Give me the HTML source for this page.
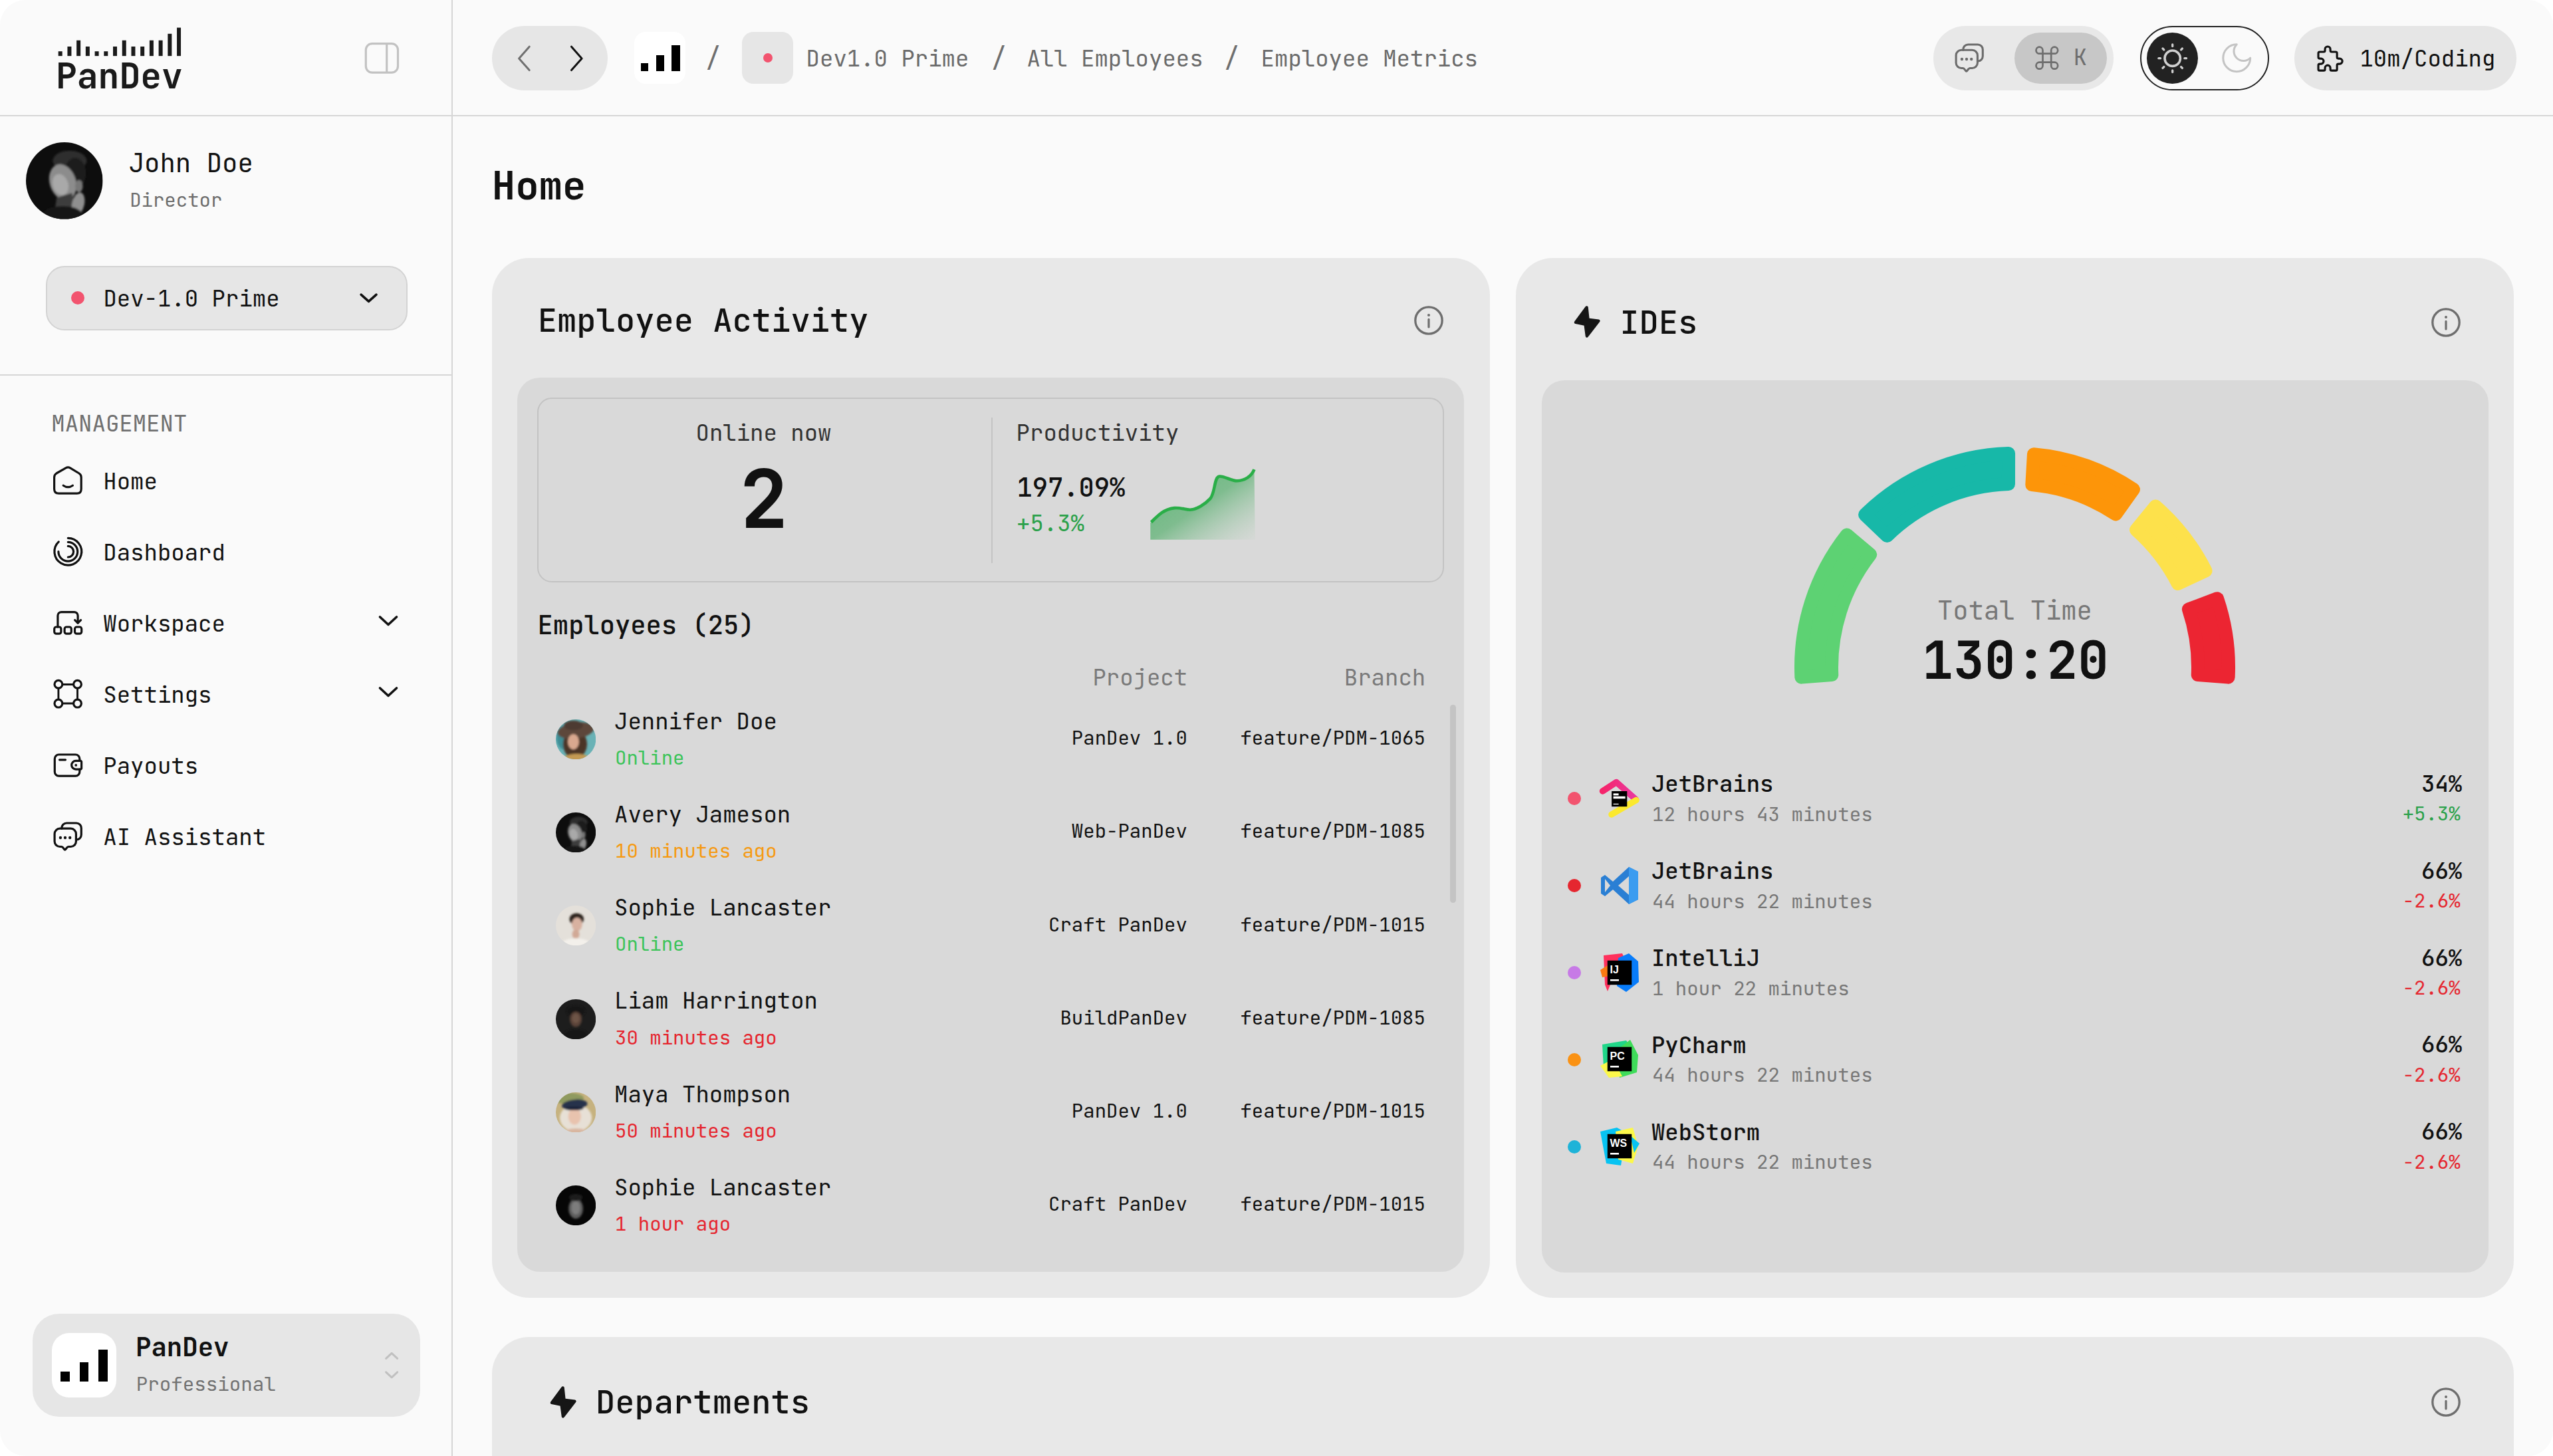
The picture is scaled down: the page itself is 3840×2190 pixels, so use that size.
<!DOCTYPE html><html><head><meta charset="utf-8"><title>PanDev - Home</title><style>
html,body{margin:0;padding:0;background:#fff;}
body{width:3840px;height:2190px;overflow:hidden;position:relative;font-family:"JetBrains Mono", "Liberation Mono", "DejaVu Sans Mono", monospace;}
#page{position:absolute;left:0;top:0;width:3840px;height:2190px;background:#fafafa;border-radius:38px;overflow:hidden;}
#page div, #page svg{box-sizing:border-box;}
</style></head><body><div id="page">
<div style="position:absolute;left:0px;top:173px;width:3840px;height:2px;background:#d6d6d6;"></div>
<div style="position:absolute;left:679px;top:0px;width:2px;height:2190px;background:#d6d6d6;"></div>
<div style="position:absolute;left:0px;top:563px;width:680px;height:2px;background:#d6d6d6;"></div>
<svg style="position:absolute;left:80px;top:30px;overflow:visible;" width="200" height="60" viewBox="0 0 200 60"><rect x="7.70" y="47.20" width="6" height="7" fill="#1a1a1a"/><rect x="21.42" y="40.00" width="6" height="14.2" fill="#1a1a1a"/><rect x="35.14" y="30.70" width="6" height="23.5" fill="#1a1a1a"/><rect x="48.86" y="40.00" width="6" height="14.2" fill="#1a1a1a"/><rect x="62.58" y="47.20" width="6" height="7" fill="#1a1a1a"/><rect x="76.30" y="47.20" width="6" height="7" fill="#1a1a1a"/><rect x="90.02" y="40.00" width="6" height="14.2" fill="#1a1a1a"/><rect x="103.74" y="30.70" width="6" height="23.5" fill="#1a1a1a"/><rect x="117.46" y="40.00" width="6" height="14.2" fill="#1a1a1a"/><rect x="131.18" y="40.00" width="6" height="14.2" fill="#1a1a1a"/><rect x="144.90" y="30.70" width="6" height="23.5" fill="#1a1a1a"/><rect x="158.62" y="30.70" width="6" height="23.5" fill="#1a1a1a"/><rect x="172.34" y="20.80" width="6" height="33.4" fill="#1a1a1a"/><rect x="186.06" y="11.60" width="6" height="42.6" fill="#1a1a1a"/></svg>
<div style="position:absolute;left:83.99px;top:87.92px;font-size:53px;line-height:53px;color:#1a1a1a;font-weight:700;white-space:pre;">PanDev</div>
<svg style="position:absolute;left:540px;top:55px;overflow:visible;" width="70" height="65" viewBox="0 0 70 65"><rect x="10.3" y="10.6" width="48.2" height="43.5" rx="9.5" fill="none" stroke="#c2c2c2" stroke-width="3.2"/><line x1="41.7" y1="10.6" x2="41.7" y2="54.1" stroke="#c2c2c2" stroke-width="3.2"/></svg>
<svg style="position:absolute;left:39.3px;top:214.3px;" width="115.6" height="115.6" viewBox="0 0 100 100"><defs><clipPath id="avc1"><circle cx="50" cy="50" r="50"/></clipPath><filter id="avf1" x="-20%" y="-20%" width="140%" height="140%"><feGaussianBlur stdDeviation="1.6"/></filter></defs><g clip-path="url(#avc1)"><rect width="100" height="100" fill="#0d0d0d"/><g filter="url(#avf1)"><ellipse cx="57" cy="24" rx="22" ry="13" fill="#2e2e2e"/><ellipse cx="64" cy="40" rx="14" ry="20" fill="#1f1f1f"/><ellipse cx="48" cy="52" rx="17" ry="24" fill="#8c8c8c" transform="rotate(-18 48 52)"/><ellipse cx="45" cy="55" rx="10" ry="14" fill="#a9a9a9" transform="rotate(-18 45 55)"/><ellipse cx="69" cy="57" rx="5" ry="8" fill="#777"/><path d="M40 72 L60 66 L66 100 L36 100 Z" fill="#3c3c3c"/><ellipse cx="68" cy="80" rx="8" ry="15" fill="#8f8f8f" transform="rotate(12 68 80)"/><ellipse cx="48" cy="95" rx="26" ry="12" fill="#141414"/></g></g></svg>
<div style="position:absolute;left:193.67px;top:225.76px;font-size:39px;line-height:39px;color:#111;font-weight:400;white-space:pre;">John Doe</div>
<div style="position:absolute;left:195.17px;top:286.06px;font-size:29px;line-height:29px;color:#6e6e6e;font-weight:400;white-space:pre;">Director</div>
<div style="position:absolute;left:68.8px;top:399.8px;width:544.4px;height:97px;background:#e6e6e6;border:2px solid #d3d3d3;border-radius:28px;"></div>
<div style="position:absolute;left:106.6px;top:438px;width:20px;height:20px;background:#f2546f;border-radius:50%;"></div>
<div style="position:absolute;left:155.42px;top:432.26px;font-size:34px;line-height:34px;color:#111;font-weight:400;white-space:pre;">Dev-1.0 Prime</div>
<svg style="position:absolute;left:535px;top:435px;overflow:visible;" width="40" height="30" viewBox="0 0 40 30"><polyline points="8.1,8.2 19.55,18.4 31,8.2" fill="none" stroke="#111" stroke-width="3.6" stroke-linecap="round" stroke-linejoin="round"/></svg>
<svg style="position:absolute;left:70px;top:690px;overflow:visible;" width="64" height="64" viewBox="0 0 64 64"><path d="M11.6 28 V45.5 Q11.6 52.2 18.3 52.2 H45.8 Q52.2 52.2 52.2 45.5 V28 Q52.2 24 49 22 L35.6 13.8 Q32.3 11.9 29 13.8 L14.8 22 Q11.6 24 11.6 28 Z" fill="none" stroke="#111" stroke-width="3.2" stroke-linecap="round" stroke-linejoin="round"/><path d="M25.2 40.2 Q32.3 45.2 39.4 40.2" fill="none" stroke="#111" stroke-width="3.2" stroke-linecap="round" stroke-linejoin="round"/></svg>
<svg style="position:absolute;left:74px;top:802px;overflow:visible;" width="56" height="56" viewBox="0 0 56 56"><path d="M28.3 7.3 A20.4 20.4 0 1 1 14.26 12.9" fill="none" stroke="#111" stroke-width="3.2" stroke-linecap="round" stroke-linejoin="round"/><path d="M28.3 13.3 A14.4 14.4 0 1 1 13.9 27.7" fill="none" stroke="#111" stroke-width="3.2" stroke-linecap="round" stroke-linejoin="round"/><path d="M28.3 19.4 A8.3 8.3 0 0 1 28.3 36" fill="none" stroke="#111" stroke-width="3.2" stroke-linecap="round" stroke-linejoin="round"/></svg>
<svg style="position:absolute;left:74px;top:910px;overflow:visible;" width="56" height="56" viewBox="0 0 56 56"><path d="M12.9 33 V16 a5.4 5.4 0 0 1 5.4 -5.4 H37.7 a5.4 5.4 0 0 1 5.4 5.4 V27" fill="none" stroke="#111" stroke-width="3.2" stroke-linecap="round" stroke-linejoin="round"/><polyline points="38.6,22.6 43.1,27.1 47.6,22.6" fill="none" stroke="#111" stroke-width="3.2" stroke-linecap="round" stroke-linejoin="round"/><rect x="7.7" y="33" width="10.2" height="10.2" rx="3" fill="none" stroke="#111" stroke-width="3.2" stroke-linecap="round" stroke-linejoin="round"/><rect x="23.1" y="33" width="10.2" height="10.2" rx="3" fill="none" stroke="#111" stroke-width="3.2" stroke-linecap="round" stroke-linejoin="round"/><rect x="38.5" y="33" width="10.2" height="10.2" rx="3" fill="none" stroke="#111" stroke-width="3.2" stroke-linecap="round" stroke-linejoin="round"/></svg>
<svg style="position:absolute;left:74px;top:1016px;overflow:visible;" width="56" height="56" viewBox="0 0 56 56"><circle cx="13.9" cy="13.3" r="5.9" fill="none" stroke="#111" stroke-width="3.2" stroke-linecap="round" stroke-linejoin="round"/><circle cx="42.5" cy="13.3" r="5.9" fill="none" stroke="#111" stroke-width="3.2" stroke-linecap="round" stroke-linejoin="round"/><circle cx="13.9" cy="42.1" r="5.9" fill="none" stroke="#111" stroke-width="3.2" stroke-linecap="round" stroke-linejoin="round"/><circle cx="42.5" cy="42.1" r="5.9" fill="none" stroke="#111" stroke-width="3.2" stroke-linecap="round" stroke-linejoin="round"/><path d="M19.8 13.5 H36.6 M19.8 42 H36.6 M13.9 19.2 V36.2 M42.5 19.2 V36.2" fill="none" stroke="#111" stroke-width="2.9"/></svg>
<svg style="position:absolute;left:74px;top:1124px;overflow:visible;" width="56" height="56" viewBox="0 0 56 56"><path d="M45.8 20.4 V17.2 a6.2 6.2 0 0 0 -6.2 -6.2 H14.5 a6.2 6.2 0 0 0 -6.2 6.2 V36.9 a6.2 6.2 0 0 0 6.2 6.2 H39.6 a6.2 6.2 0 0 0 6.2 -6.2 V33.2" fill="none" stroke="#111" stroke-width="3.2" stroke-linecap="round" stroke-linejoin="round"/><path d="M40 20.4 H47 a1.6 1.6 0 0 1 1.6 1.6 V31.5 a1.6 1.6 0 0 1 -1.6 1.6 H40 a6.35 6.35 0 0 1 0 -12.7 Z" fill="none" stroke="#111" stroke-width="3.2" stroke-linecap="round" stroke-linejoin="round"/><circle cx="40.2" cy="26.9" r="1.9" fill="#111"/><line x1="15.5" y1="18.8" x2="24.5" y2="18.8" fill="none" stroke="#111" stroke-width="3.2" stroke-linecap="round" stroke-linejoin="round"/></svg>
<svg style="position:absolute;left:74px;top:1230px;overflow:visible;" width="56" height="56" viewBox="0 0 56 56"><path d="M18.8 16.2 V15.5 a7.5 7.5 0 0 1 7.5 -7.5 H40.8 a7.5 7.5 0 0 1 7.5 7.5 V25.5 a7.5 7.5 0 0 1 -7.5 7.5 H40.4" fill="none" stroke="#111" stroke-width="3.2" stroke-linecap="round" stroke-linejoin="round"/><path d="M16.1 16.2 H32.4 a8 8 0 0 1 8 8 V35.5 a8 8 0 0 1 -8 8 H29.2 q-1.3 0 -2.1 1.1 L24.6 47.6 q-0.9 1 -1.8 0 L20.4 44.6 q-0.8 -1.1 -2.1 -1.1 H16.1 a8 8 0 0 1 -8 -8 V24.2 a8 8 0 0 1 8 -8 Z" fill="none" stroke="#111" stroke-width="3.2" stroke-linecap="round" stroke-linejoin="round"/><circle cx="16.9" cy="30" r="2.2" fill="#111"/><circle cx="24" cy="30" r="2.2" fill="#111"/><circle cx="31.2" cy="30" r="2.2" fill="#111"/></svg>
<div style="position:absolute;left:77.32px;top:620.16px;font-size:34px;line-height:34px;color:#707070;font-weight:400;white-space:pre;">MANAGEMENT</div>
<div style="position:absolute;left:155.32px;top:706.56px;font-size:34px;line-height:34px;color:#111;font-weight:400;white-space:pre;">Home</div>
<div style="position:absolute;left:155.32px;top:813.56px;font-size:34px;line-height:34px;color:#111;font-weight:400;white-space:pre;">Dashboard</div>
<div style="position:absolute;left:155.32px;top:920.56px;font-size:34px;line-height:34px;color:#111;font-weight:400;white-space:pre;">Workspace</div>
<div style="position:absolute;left:155.32px;top:1027.56px;font-size:34px;line-height:34px;color:#111;font-weight:400;white-space:pre;">Settings</div>
<div style="position:absolute;left:155.32px;top:1134.56px;font-size:34px;line-height:34px;color:#111;font-weight:400;white-space:pre;">Payouts</div>
<div style="position:absolute;left:155.32px;top:1241.56px;font-size:34px;line-height:34px;color:#111;font-weight:400;white-space:pre;">AI Assistant</div>
<svg style="position:absolute;left:565px;top:919.8px;overflow:visible;" width="40" height="30" viewBox="0 0 40 30"><polyline points="6.5,8 19,19.5 31.5,8" fill="none" stroke="#111" stroke-width="3.6" stroke-linecap="round" stroke-linejoin="round"/></svg>
<svg style="position:absolute;left:565px;top:1026.8px;overflow:visible;" width="40" height="30" viewBox="0 0 40 30"><polyline points="6.5,8 19,19.5 31.5,8" fill="none" stroke="#111" stroke-width="3.6" stroke-linecap="round" stroke-linejoin="round"/></svg>
<div style="position:absolute;left:49px;top:1976px;width:583px;height:155px;background:#e6e6e6;border-radius:40px;"></div>
<div style="position:absolute;left:78px;top:2005px;width:97px;height:97px;background:#fff;border-radius:26px;"></div>
<div style="position:absolute;left:91.3px;top:2062.7px;width:13.7px;height:15.1px;background:#000;"></div>
<div style="position:absolute;left:119.8px;top:2048.7px;width:13.7px;height:29.1px;background:#000;"></div>
<div style="position:absolute;left:148px;top:2029.5px;width:13.8px;height:48.3px;background:#000;"></div>
<div style="position:absolute;left:204.07px;top:2006.96px;font-size:39px;line-height:39px;color:#111;font-weight:600;white-space:pre;">PanDev</div>
<div style="position:absolute;left:204.76px;top:2066.89px;font-size:29.2px;line-height:29.2px;color:#737373;font-weight:400;white-space:pre;">Professional</div>
<svg style="position:absolute;left:570px;top:2025px;overflow:visible;" width="40" height="60" viewBox="0 0 40 60"><polyline points="10.6,18.3 19.15,10.3 27.7,18.3" fill="none" stroke="#c0c0c0" stroke-width="3" stroke-linecap="round" stroke-linejoin="round"/><polyline points="10.6,38.8 19.15,46.8 27.7,38.8" fill="none" stroke="#c0c0c0" stroke-width="3" stroke-linecap="round" stroke-linejoin="round"/></svg>
<div style="position:absolute;left:739.6px;top:38.6px;width:174.8px;height:97px;background:#e6e6e6;border-radius:48.5px;"></div>
<svg style="position:absolute;left:770px;top:62px;overflow:visible;" width="120" height="52" viewBox="0 0 120 52"><polyline points="26.2,8.2 10.6,26 26.2,43.6" fill="none" stroke="#707070" stroke-width="3" stroke-linecap="round" stroke-linejoin="round"/><polyline points="89.5,8.2 105.1,26 89.5,43.6" fill="none" stroke="#111" stroke-width="3" stroke-linecap="round" stroke-linejoin="round"/></svg>
<div style="position:absolute;left:953.6px;top:48.3px;width:77px;height:77.6px;background:#fff;border-radius:17px;"></div>
<div style="position:absolute;left:963.6px;top:95px;width:11.4px;height:11.6px;background:#000;"></div>
<div style="position:absolute;left:987px;top:82.5px;width:11.5px;height:24.1px;background:#000;"></div>
<div style="position:absolute;left:1010px;top:67.9px;width:12.6px;height:38.7px;background:#000;"></div>
<div style="position:absolute;left:1061.10px;top:68.79px;font-size:38.5px;line-height:38.5px;color:#6e6e6e;font-weight:400;white-space:pre;">/</div>
<div style="position:absolute;left:1115.8px;top:48.2px;width:77.7px;height:77.8px;background:#e6e6e6;border-radius:17px;"></div>
<div style="position:absolute;left:1147.6px;top:80px;width:14px;height:14px;background:#f2546f;border-radius:50%;"></div>
<div style="position:absolute;left:1212.62px;top:71.26px;font-size:34px;line-height:34px;color:#6b6b6b;font-weight:400;white-space:pre;">Dev1.0 Prime</div>
<div style="position:absolute;left:1490.70px;top:68.59px;font-size:38.5px;line-height:38.5px;color:#6e6e6e;font-weight:400;white-space:pre;">/</div>
<div style="position:absolute;left:1544.42px;top:71.26px;font-size:34px;line-height:34px;color:#6b6b6b;font-weight:400;white-space:pre;">All Employees</div>
<div style="position:absolute;left:1841.10px;top:68.59px;font-size:38.5px;line-height:38.5px;color:#6e6e6e;font-weight:400;white-space:pre;">/</div>
<div style="position:absolute;left:1896.62px;top:71.26px;font-size:34px;line-height:34px;color:#6b6b6b;font-weight:400;white-space:pre;">Employee Metrics</div>
<div style="position:absolute;left:2908px;top:39px;width:271px;height:97px;background:#e8e8e8;border-radius:48px;"></div>
<div style="position:absolute;left:3030px;top:48.5px;width:139px;height:77.5px;background:#c7c7c7;border-radius:39px;"></div>
<svg style="position:absolute;left:2933.5px;top:58.6px;overflow:visible;" width="56" height="56" viewBox="0 0 56 56"><path d="M18.8 16.2 V15.5 a7.5 7.5 0 0 1 7.5 -7.5 H40.8 a7.5 7.5 0 0 1 7.5 7.5 V25.5 a7.5 7.5 0 0 1 -7.5 7.5 H40.4" fill="none" stroke="#6c6c6c" stroke-width="3.1" stroke-linecap="round" stroke-linejoin="round"/><path d="M16.1 16.2 H32.4 a8 8 0 0 1 8 8 V35.5 a8 8 0 0 1 -8 8 H29.2 q-1.3 0 -2.1 1.1 L24.6 47.6 q-0.9 1 -1.8 0 L20.4 44.6 q-0.8 -1.1 -2.1 -1.1 H16.1 a8 8 0 0 1 -8 -8 V24.2 a8 8 0 0 1 8 -8 Z" fill="none" stroke="#6c6c6c" stroke-width="3.1" stroke-linecap="round" stroke-linejoin="round"/><circle cx="16.9" cy="30" r="2.2" fill="#6c6c6c"/><circle cx="24" cy="30" r="2.2" fill="#6c6c6c"/><circle cx="31.2" cy="30" r="2.2" fill="#6c6c6c"/></svg>
<svg style="position:absolute;left:3055px;top:64px;overflow:visible;" width="48" height="48" viewBox="0 0 48 48"><path d="M17.5 16.7 V11.7 A5 5 0 1 0 12.5 16.7 H35.2 A5 5 0 1 0 30.2 11.7 V34.7 A5 5 0 1 0 35.2 29.7 H12.5 A5 5 0 1 0 17.5 34.7 Z" fill="none" stroke="#6e6e6e" stroke-width="2.7" stroke-linejoin="round"/></svg>
<div style="position:absolute;left:3118.66px;top:69.69px;font-size:33.5px;line-height:33.5px;color:#6e6e6e;font-weight:400;white-space:pre;">K</div>
<div style="position:absolute;left:3218.8px;top:38.8px;width:194.3px;height:97.2px;border:2.3px solid #222;border-radius:49px;background:#fafafa;"></div>
<div style="position:absolute;left:3228.5px;top:48.9px;width:77.3px;height:77.3px;background:#222;border-radius:50%;"></div>
<svg style="position:absolute;left:3228.5px;top:48.9px;overflow:visible;" width="77.4" height="77.4" viewBox="0 0 77.4 77.4"><circle cx="38.7" cy="38.7" r="11.7" fill="none" stroke="#cfcfcf" stroke-width="3.6"/><line x1="56.90" y1="38.70" x2="59.50" y2="38.70" stroke="#cfcfcf" stroke-width="3.3" stroke-linecap="round"/><line x1="51.57" y1="51.57" x2="53.41" y2="53.41" stroke="#cfcfcf" stroke-width="3.3" stroke-linecap="round"/><line x1="38.70" y1="56.90" x2="38.70" y2="59.50" stroke="#cfcfcf" stroke-width="3.3" stroke-linecap="round"/><line x1="25.83" y1="51.57" x2="23.99" y2="53.41" stroke="#cfcfcf" stroke-width="3.3" stroke-linecap="round"/><line x1="20.50" y1="38.70" x2="17.90" y2="38.70" stroke="#cfcfcf" stroke-width="3.3" stroke-linecap="round"/><line x1="25.83" y1="25.83" x2="23.99" y2="23.99" stroke="#cfcfcf" stroke-width="3.3" stroke-linecap="round"/><line x1="38.70" y1="20.50" x2="38.70" y2="17.90" stroke="#cfcfcf" stroke-width="3.3" stroke-linecap="round"/><line x1="51.57" y1="25.83" x2="53.41" y2="23.99" stroke="#cfcfcf" stroke-width="3.3" stroke-linecap="round"/></svg>
<svg style="position:absolute;left:3337px;top:60.2px;overflow:visible" width="54.48" height="54.48" viewBox="0 0 24 24"><path d="M12 3a6 6 0 0 0 9 9 9 9 0 1 1-9-9Z" fill="none" stroke="#c4c4c4" stroke-width="1.35" stroke-linejoin="round" stroke-linecap="round"/></svg>
<div style="position:absolute;left:3451px;top:39px;width:334px;height:97px;background:#e6e6e6;border-radius:48px;"></div>
<svg style="position:absolute;left:3481.4px;top:63.75px;overflow:visible" width="48.2" height="48.2" viewBox="0 0 24 24"><path d="M4 7h3a1 1 0 0 0 1 -1v-1a2 2 0 0 1 4 0v1a1 1 0 0 0 1 1h3a1 1 0 0 1 1 1v3a1 1 0 0 0 1 1h1a2 2 0 0 1 0 4h-1a1 1 0 0 0 -1 1v3a1 1 0 0 1 -1 1h-3a1 1 0 0 1 -1 -1v-1a2 2 0 0 0 -4 0v1a1 1 0 0 1 -1 1h-3a1 1 0 0 1 -1 -1v-3a1 1 0 0 1 1 -1h1a2 2 0 0 0 0 -4h-1a1 1 0 0 1 -1 -1v-3a1 1 0 0 1 1 -1" fill="none" stroke="#111" stroke-width="1.55" stroke-linecap="round" stroke-linejoin="round"/></svg>
<div style="position:absolute;left:3549.42px;top:71.06px;font-size:34px;line-height:34px;color:#111;font-weight:400;white-space:pre;">10m/Coding</div>
<div style="position:absolute;left:739.77px;top:249.96px;font-size:59px;line-height:59px;color:#111;font-weight:700;white-space:pre;">Home</div>
<div style="position:absolute;left:740px;top:387.5px;width:1500.5px;height:1564.5px;background:#e8e8e8;border-radius:56px;"></div>
<div style="position:absolute;left:808.78px;top:457.93px;font-size:48.8px;line-height:48.8px;color:#111;font-weight:500;white-space:pre;">Employee Activity</div>
<svg style="position:absolute;left:2123.7px;top:457.1px;overflow:visible;" width="50" height="50" viewBox="0 0 50 50"><circle cx="25" cy="25" r="20.2" fill="none" stroke="#6e6e6e" stroke-width="3.3"/><line x1="25" y1="23.4" x2="25" y2="35" stroke="#6e6e6e" stroke-width="3.2" stroke-linecap="round"/><circle cx="25" cy="17" r="2" fill="#6e6e6e"/></svg>
<div style="position:absolute;left:778.2px;top:568px;width:1423.5px;height:1345px;background:#d9d9d9;border-radius:34px;"></div>
<div style="position:absolute;left:808.3px;top:598.3px;width:1363.7px;height:278px;border:2.6px solid #c3c3c3;border-radius:22px;"></div>
<div style="position:absolute;left:1491px;top:628px;width:2px;height:219px;background:#c4c4c4;"></div>
<div style="position:absolute;left:148.50px;width:2000px;text-align:center;top:633.96px;font-size:34px;line-height:34px;color:#333;font-weight:400;white-space:pre;">Online now</div>
<div style="position:absolute;left:149.00px;width:2000px;text-align:center;top:689.88px;font-size:122px;line-height:122px;color:#111;font-weight:700;white-space:pre;">2</div>
<div style="position:absolute;left:1528.62px;top:633.96px;font-size:34px;line-height:34px;color:#333;font-weight:400;white-space:pre;">Productivity</div>
<div style="position:absolute;left:1529.38px;top:713.63px;font-size:38.8px;line-height:38.8px;color:#111;font-weight:500;white-space:pre;">197.09%</div>
<div style="position:absolute;left:1529.02px;top:770.26px;font-size:34px;line-height:34px;color:#2ba14a;font-weight:400;white-space:pre;">+5.3%</div>
<svg style="position:absolute;left:1720px;top:695px;overflow:visible;" width="180" height="125" viewBox="0 0 180 125"><defs><linearGradient id="sg" x1="0" y1="0" x2="1" y2="1"><stop offset="0" stop-color="#4db46a" stop-opacity="0.9"/><stop offset="0.5" stop-color="#58b06f" stop-opacity="0.7"/><stop offset="1" stop-color="#cfd8d0" stop-opacity="0.3"/></linearGradient></defs>
<path d="M12 90 C 22 80, 32 70, 46.4 69.1 C 58 68.5, 63 72, 70.4 71.7 C 80 71.3, 92 64, 100.4 54.9 C 108 46, 106 22, 114.2 21.5 C 122 21, 132 28.5, 140.8 28.3 C 152 28, 162 22, 166.5 11.2 L167.8 116.7 L10.3 116.7 L10.3 91.5 Z" fill="url(#sg)"/>
<path d="M11.5 90.5 C 22 80, 32 70, 46.4 69.1 C 58 68.5, 63 72, 70.4 71.7 C 80 71.3, 92 64, 100.4 54.9 C 108 46, 106 22, 114.2 21.5 C 122 21, 132 28.5, 140.8 28.3 C 152 28, 162 22, 166.5 11.2" fill="none" stroke="#2aae48" stroke-width="4.6" stroke-linecap="butt"/></svg>
<div style="position:absolute;left:808.58px;top:921.23px;font-size:38.8px;line-height:38.8px;color:#111;font-weight:500;white-space:pre;">Employees (25)</div>
<div style="position:absolute;right:2053.82px;top:1002.46px;font-size:34px;line-height:34px;color:#7a7a7a;font-weight:400;white-space:pre;text-align:right;">Project</div>
<div style="position:absolute;right:1695.82px;top:1002.46px;font-size:34px;line-height:34px;color:#7a7a7a;font-weight:400;white-space:pre;text-align:right;">Branch</div>
<svg style="position:absolute;left:835.8px;top:1081.6px;" width="60.2" height="60.2" viewBox="0 0 100 100"><defs><clipPath id="avc2"><circle cx="50" cy="50" r="50"/></clipPath><filter id="avf2" x="-20%" y="-20%" width="140%" height="140%"><feGaussianBlur stdDeviation="2.5"/></filter></defs><g clip-path="url(#avc2)"><rect width="100" height="100" fill="#6ab2b6"/><g filter="url(#avf2)"><ellipse cx="20" cy="45" rx="18" ry="30" fill="#3e8d95"/><ellipse cx="48" cy="62" rx="30" ry="36" fill="#4b3428"/><ellipse cx="50" cy="28" rx="46" ry="20" fill="#5d463a" transform="rotate(-8 50 28)"/><ellipse cx="44" cy="15" rx="24" ry="12" fill="#4e3b31"/><ellipse cx="44" cy="56" rx="14" ry="19" fill="#d9a88f"/><ellipse cx="52" cy="102" rx="36" ry="16" fill="#c49a52"/></g></g></svg>
<div style="position:absolute;left:924.02px;top:1067.56px;font-size:34px;line-height:34px;color:#111;font-weight:400;white-space:pre;">Jennifer Doe</div>
<div style="position:absolute;left:925.07px;top:1124.86px;font-size:29px;line-height:29px;color:#3cc45a;font-weight:400;white-space:pre;">Online</div>
<div style="position:absolute;right:2054.17px;top:1094.96px;font-size:29px;line-height:29px;color:#111;font-weight:400;white-space:pre;text-align:right;">PanDev 1.0</div>
<div style="position:absolute;right:1696.17px;top:1094.96px;font-size:29px;line-height:29px;color:#111;font-weight:400;white-space:pre;text-align:right;">feature/PDM-1065</div>
<svg style="position:absolute;left:835.8px;top:1221.9px;" width="60.2" height="60.2" viewBox="0 0 100 100"><defs><clipPath id="avc3"><circle cx="50" cy="50" r="50"/></clipPath><filter id="avf3" x="-20%" y="-20%" width="140%" height="140%"><feGaussianBlur stdDeviation="2.5"/></filter></defs><g clip-path="url(#avc3)"><rect width="100" height="100" fill="#0d0d0d"/><g filter="url(#avf3)"><ellipse cx="57" cy="24" rx="22" ry="13" fill="#2e2e2e"/><ellipse cx="64" cy="40" rx="14" ry="20" fill="#1f1f1f"/><ellipse cx="48" cy="52" rx="17" ry="24" fill="#8c8c8c" transform="rotate(-18 48 52)"/><ellipse cx="45" cy="55" rx="10" ry="14" fill="#a9a9a9" transform="rotate(-18 45 55)"/><ellipse cx="69" cy="57" rx="5" ry="8" fill="#777"/><path d="M40 72 L60 66 L66 100 L36 100 Z" fill="#3c3c3c"/><ellipse cx="68" cy="80" rx="8" ry="15" fill="#8f8f8f" transform="rotate(12 68 80)"/><ellipse cx="48" cy="95" rx="26" ry="12" fill="#141414"/></g></g></svg>
<div style="position:absolute;left:924.02px;top:1207.86px;font-size:34px;line-height:34px;color:#111;font-weight:400;white-space:pre;">Avery Jameson</div>
<div style="position:absolute;left:925.07px;top:1265.16px;font-size:29px;line-height:29px;color:#f59a12;font-weight:400;white-space:pre;">10 minutes ago</div>
<div style="position:absolute;right:2054.17px;top:1235.26px;font-size:29px;line-height:29px;color:#111;font-weight:400;white-space:pre;text-align:right;">Web-PanDev</div>
<div style="position:absolute;right:1696.17px;top:1235.26px;font-size:29px;line-height:29px;color:#111;font-weight:400;white-space:pre;text-align:right;">feature/PDM-1085</div>
<svg style="position:absolute;left:835.8px;top:1362.2px;" width="60.2" height="60.2" viewBox="0 0 100 100"><defs><clipPath id="avc4"><circle cx="50" cy="50" r="50"/></clipPath><filter id="avf4" x="-20%" y="-20%" width="140%" height="140%"><feGaussianBlur stdDeviation="2.5"/></filter></defs><g clip-path="url(#avc4)"><rect width="100" height="100" fill="#e4e0da"/><g filter="url(#avf4)"><ellipse cx="52" cy="34" rx="18" ry="15" fill="#2b201c"/><ellipse cx="53" cy="47" rx="13" ry="17" fill="#d8b1a0"/><ellipse cx="50" cy="72" rx="9" ry="12" fill="#d1a996"/><ellipse cx="50" cy="98" rx="38" ry="16" fill="#f3f0eb"/></g></g></svg>
<div style="position:absolute;left:924.02px;top:1348.16px;font-size:34px;line-height:34px;color:#111;font-weight:400;white-space:pre;">Sophie Lancaster</div>
<div style="position:absolute;left:925.07px;top:1405.46px;font-size:29px;line-height:29px;color:#3cc45a;font-weight:400;white-space:pre;">Online</div>
<div style="position:absolute;right:2054.17px;top:1375.56px;font-size:29px;line-height:29px;color:#111;font-weight:400;white-space:pre;text-align:right;">Craft PanDev</div>
<div style="position:absolute;right:1696.17px;top:1375.56px;font-size:29px;line-height:29px;color:#111;font-weight:400;white-space:pre;text-align:right;">feature/PDM-1015</div>
<svg style="position:absolute;left:835.8px;top:1502.5px;" width="60.2" height="60.2" viewBox="0 0 100 100"><defs><clipPath id="avc5"><circle cx="50" cy="50" r="50"/></clipPath><filter id="avf5" x="-20%" y="-20%" width="140%" height="140%"><feGaussianBlur stdDeviation="2.5"/></filter></defs><g clip-path="url(#avc5)"><rect width="100" height="100" fill="#1d1d1d"/><g filter="url(#avf5)"><ellipse cx="50" cy="30" rx="24" ry="15" fill="#121212"/><ellipse cx="50" cy="50" rx="15" ry="19" fill="#5a4337"/><ellipse cx="50" cy="48" rx="9" ry="12" fill="#6e5446"/><ellipse cx="50" cy="90" rx="30" ry="16" fill="#141414"/></g></g></svg>
<div style="position:absolute;left:924.02px;top:1488.46px;font-size:34px;line-height:34px;color:#111;font-weight:400;white-space:pre;">Liam Harrington</div>
<div style="position:absolute;left:925.07px;top:1545.76px;font-size:29px;line-height:29px;color:#e5262f;font-weight:400;white-space:pre;">30 minutes ago</div>
<div style="position:absolute;right:2054.17px;top:1515.86px;font-size:29px;line-height:29px;color:#111;font-weight:400;white-space:pre;text-align:right;">BuildPanDev</div>
<div style="position:absolute;right:1696.17px;top:1515.86px;font-size:29px;line-height:29px;color:#111;font-weight:400;white-space:pre;text-align:right;">feature/PDM-1085</div>
<svg style="position:absolute;left:835.8px;top:1642.8px;" width="60.2" height="60.2" viewBox="0 0 100 100"><defs><clipPath id="avc6"><circle cx="50" cy="50" r="50"/></clipPath><filter id="avf6" x="-20%" y="-20%" width="140%" height="140%"><feGaussianBlur stdDeviation="2.5"/></filter></defs><g clip-path="url(#avc6)"><rect width="100" height="100" fill="#c6b27f"/><g filter="url(#avf6)"><ellipse cx="30" cy="15" rx="40" ry="14" fill="#8f9a5e"/><ellipse cx="50" cy="64" rx="40" ry="34" fill="#e7e0d6"/><ellipse cx="47" cy="60" rx="16" ry="21" fill="#e8c3ae"/><ellipse cx="47" cy="31" rx="32" ry="13" fill="#27314c" transform="rotate(-6 47 31)"/><ellipse cx="45" cy="40" rx="24" ry="5" fill="#1d253b"/><ellipse cx="50" cy="100" rx="30" ry="10" fill="#d9b6a0"/></g></g></svg>
<div style="position:absolute;left:924.02px;top:1628.76px;font-size:34px;line-height:34px;color:#111;font-weight:400;white-space:pre;">Maya Thompson</div>
<div style="position:absolute;left:925.07px;top:1686.06px;font-size:29px;line-height:29px;color:#e5262f;font-weight:400;white-space:pre;">50 minutes ago</div>
<div style="position:absolute;right:2054.17px;top:1656.16px;font-size:29px;line-height:29px;color:#111;font-weight:400;white-space:pre;text-align:right;">PanDev 1.0</div>
<div style="position:absolute;right:1696.17px;top:1656.16px;font-size:29px;line-height:29px;color:#111;font-weight:400;white-space:pre;text-align:right;">feature/PDM-1015</div>
<svg style="position:absolute;left:835.8px;top:1783.1px;" width="60.2" height="60.2" viewBox="0 0 100 100"><defs><clipPath id="avc7"><circle cx="50" cy="50" r="50"/></clipPath><filter id="avf7" x="-20%" y="-20%" width="140%" height="140%"><feGaussianBlur stdDeviation="2.5"/></filter></defs><g clip-path="url(#avc7)"><rect width="100" height="100" fill="#060606"/><g filter="url(#avf7)"><ellipse cx="50" cy="58" rx="18" ry="25" fill="#5d5d5d"/><ellipse cx="50" cy="56" rx="11" ry="17" fill="#7d7d7d"/><ellipse cx="50" cy="30" rx="17" ry="9" fill="#1a1a1a"/></g></g></svg>
<div style="position:absolute;left:924.02px;top:1769.06px;font-size:34px;line-height:34px;color:#111;font-weight:400;white-space:pre;">Sophie Lancaster</div>
<div style="position:absolute;left:925.07px;top:1826.36px;font-size:29px;line-height:29px;color:#e5262f;font-weight:400;white-space:pre;">1 hour ago</div>
<div style="position:absolute;right:2054.17px;top:1796.46px;font-size:29px;line-height:29px;color:#111;font-weight:400;white-space:pre;text-align:right;">Craft PanDev</div>
<div style="position:absolute;right:1696.17px;top:1796.46px;font-size:29px;line-height:29px;color:#111;font-weight:400;white-space:pre;text-align:right;">feature/PDM-1015</div>
<div style="position:absolute;left:2181.2px;top:1059.5px;width:9px;height:298px;background:#c4c4c4;border-radius:5px;"></div>
<div style="position:absolute;left:2280.2px;top:387.5px;width:1501.3px;height:1564.5px;background:#e8e8e8;border-radius:56px;"></div>
<svg style="position:absolute;left:2356.97px;top:454.29px;overflow:visible;" width="60" height="60" viewBox="0 0 60 60"><polygon points="29.59,8.35 12.98,30.86 27.59,33.84 29.91,51.45 47.46,28.70 31.53,26.66" fill="#161616" stroke="#161616" stroke-width="4.4" stroke-linejoin="round"/></svg>
<div style="position:absolute;left:2436.18px;top:460.93px;font-size:48.8px;line-height:48.8px;color:#111;font-weight:500;white-space:pre;">IDEs</div>
<svg style="position:absolute;left:3654px;top:460px;overflow:visible;" width="50" height="50" viewBox="0 0 50 50"><circle cx="25" cy="25" r="20.2" fill="none" stroke="#6e6e6e" stroke-width="3.3"/><line x1="25" y1="23.4" x2="25" y2="35" stroke="#6e6e6e" stroke-width="3.2" stroke-linecap="round"/><circle cx="25" cy="17" r="2" fill="#6e6e6e"/></svg>
<div style="position:absolute;left:2319px;top:571.5px;width:1423.5px;height:1342px;background:#d9d9d9;border-radius:34px;"></div>
<svg style="position:absolute;left:0;top:0;overflow:visible" width="3840" height="2190" viewBox="0 0 3840 2190"><path d="M2709.36 1018.64 A321.5 321.5 0 0 1 2777.91 804.50 L2813.17 834.09 A275.5 275.5 0 0 0 2755.25 1015.03 Z" fill="#5dd273" stroke="#5dd273" stroke-width="20" stroke-linejoin="round"/><path d="M2805.09 774.16 A321.5 321.5 0 0 1 3021.06 682.04 L3020.98 728.06 A275.5 275.5 0 0 0 2838.36 805.96 Z" fill="#17b8a8" stroke="#17b8a8" stroke-width="20" stroke-linejoin="round"/><path d="M3058.98 683.16 A321.5 321.5 0 0 1 3208.97 735.98 L3182.24 773.45 A275.5 275.5 0 0 0 3056.33 729.11 Z" fill="#fd9509" stroke="#fd9509" stroke-width="20" stroke-linejoin="round"/><path d="M3242.19 761.43 A321.5 321.5 0 0 1 3317.51 858.53 L3275.80 877.98 A275.5 275.5 0 0 0 3212.98 797.00 Z" fill="#fde14b" stroke="#fde14b" stroke-width="20" stroke-linejoin="round"/><path d="M3335.00 900.23 A321.5 321.5 0 0 1 3351.64 1018.64 L3305.75 1015.03 A275.5 275.5 0 0 0 3291.88 916.35 Z" fill="#ec2532" stroke="#ec2532" stroke-width="20" stroke-linejoin="round"/></svg>
<div style="position:absolute;left:2030.50px;width:2000px;text-align:center;top:899.03px;font-size:38.8px;line-height:38.8px;color:#777;font-weight:400;white-space:pre;">Total Time</div>
<div style="position:absolute;left:2031.50px;width:2000px;text-align:center;top:954.42px;font-size:78px;line-height:78px;color:#111;font-weight:700;white-space:pre;">130:20</div>
<div style="position:absolute;left:2357.6px;top:1191.3px;width:20px;height:20px;background:#f2546f;border-radius:50%;"></div>
<svg style="position:absolute;left:2406px;top:1171.0px;overflow:visible;" width="60" height="60" viewBox="0 0 60 60"><defs><linearGradient id="jbp" x1="0" y1="0" x2="1" y2="0"><stop offset="0" stop-color="#f5246a"/><stop offset="1" stop-color="#ea39a0"/></linearGradient></defs><polyline points="4.5,19 25.2,5.5 54.5,31.5" fill="none" stroke="url(#jbp)" stroke-width="9.5" stroke-linejoin="round" stroke-linecap="round"/><polyline points="55,32.5 18,54" fill="none" stroke="#fbe92e" stroke-width="9.5" stroke-linecap="round"/><rect x="18.1" y="19" width="23.2" height="23.2" fill="#000"/><rect x="20.6" y="22.4" width="8" height="3" fill="#fff"/><rect x="20.6" y="26.8" width="18" height="3.5" fill="#fff"/><rect x="20.6" y="37.8" width="8" height="1.3" fill="#fff"/></svg>
<div style="position:absolute;left:2483.92px;top:1162.46px;font-size:34px;line-height:34px;color:#111;font-weight:500;white-space:pre;">JetBrains</div>
<div style="position:absolute;left:2484.96px;top:1209.97px;font-size:29.1px;line-height:29.1px;color:#777;font-weight:400;white-space:pre;">12 hours 43 minutes</div>
<div style="position:absolute;right:136.82px;top:1161.96px;font-size:34px;line-height:34px;color:#111;font-weight:500;white-space:pre;text-align:right;">34%</div>
<div style="position:absolute;right:139.37px;top:1209.46px;font-size:29px;line-height:29px;color:#2ba14a;font-weight:400;white-space:pre;text-align:right;">+5.3%</div>
<div style="position:absolute;left:2357.6px;top:1322.1px;width:20px;height:20px;background:#e5262f;border-radius:50%;"></div>
<svg style="position:absolute;left:2406px;top:1301.8px;overflow:visible;" width="60" height="60" viewBox="0 0 60 60"><path d="M44 2 L58 9 V51 L44 58 L20 36 L8 46 L2 42 V18 L8 14 L20 24 Z" fill="#2a7fd4"/><path d="M44 2 L58 9 V51 L44 58 Z" fill="#3b9cf0"/><path d="M44 16 L28 30 L44 44 Z" fill="#d9d9d9"/><path d="M8 20 L16 30 L8 40 Z" fill="#d9d9d9"/></svg>
<div style="position:absolute;left:2483.92px;top:1293.26px;font-size:34px;line-height:34px;color:#111;font-weight:500;white-space:pre;">JetBrains</div>
<div style="position:absolute;left:2484.96px;top:1340.77px;font-size:29.1px;line-height:29.1px;color:#777;font-weight:400;white-space:pre;">44 hours 22 minutes</div>
<div style="position:absolute;right:136.82px;top:1292.76px;font-size:34px;line-height:34px;color:#111;font-weight:500;white-space:pre;text-align:right;">66%</div>
<div style="position:absolute;right:139.37px;top:1340.26px;font-size:29px;line-height:29px;color:#e5262f;font-weight:400;white-space:pre;text-align:right;">-2.6%</div>
<div style="position:absolute;left:2357.6px;top:1452.8999999999999px;width:20px;height:20px;background:#c77ae6;border-radius:50%;"></div>
<svg style="position:absolute;left:2406px;top:1432.6px;overflow:visible;" width="60" height="60" viewBox="0 0 60 60"><path d="M6 4 L34 1 L40 14 L22 34 L12 58 L8 48 Z" fill="#fe315d"/><path d="M1 26 L12 19 L14 35 L4 37 Z" fill="#f97a12"/><path d="M28 8 L44 1 L58 13 L59 44 L40 59 L26 50 Z" fill="#087cfa"/><rect x="11.75" y="11.75" width="36.5" height="36.5" fill="#000"/><rect x="16" y="40" width="13" height="2.6" fill="#fff"/><text x="15.5" y="31" font-family="Liberation Sans, Arial, sans-serif" font-weight="700" font-size="16" fill="#fff">IJ</text></svg>
<div style="position:absolute;left:2483.92px;top:1424.06px;font-size:34px;line-height:34px;color:#111;font-weight:500;white-space:pre;">IntelliJ</div>
<div style="position:absolute;left:2484.96px;top:1471.57px;font-size:29.1px;line-height:29.1px;color:#777;font-weight:400;white-space:pre;">1 hour 22 minutes</div>
<div style="position:absolute;right:136.82px;top:1423.56px;font-size:34px;line-height:34px;color:#111;font-weight:500;white-space:pre;text-align:right;">66%</div>
<div style="position:absolute;right:139.37px;top:1471.06px;font-size:29px;line-height:29px;color:#e5262f;font-weight:400;white-space:pre;text-align:right;">-2.6%</div>
<div style="position:absolute;left:2357.6px;top:1583.7px;width:20px;height:20px;background:#fa9214;border-radius:50%;"></div>
<svg style="position:absolute;left:2406px;top:1563.4px;overflow:visible;" width="60" height="60" viewBox="0 0 60 60"><path d="M4 8 L40 2 L52 20 L30 44 L6 42 Z" fill="#21d789"/><path d="M26 16 L46 1 L58 24 L56 50 L30 58 Z" fill="#3fdc5a"/><path d="M1 40 L20 30 L34 56 L14 58 Z" fill="#fcf84a"/><rect x="11.75" y="11.75" width="36.5" height="36.5" fill="#000"/><rect x="16" y="40" width="13" height="2.6" fill="#fff"/><text x="15.5" y="31" font-family="Liberation Sans, Arial, sans-serif" font-weight="700" font-size="16" fill="#fff">PC</text></svg>
<div style="position:absolute;left:2483.92px;top:1554.86px;font-size:34px;line-height:34px;color:#111;font-weight:500;white-space:pre;">PyCharm</div>
<div style="position:absolute;left:2484.96px;top:1602.37px;font-size:29.1px;line-height:29.1px;color:#777;font-weight:400;white-space:pre;">44 hours 22 minutes</div>
<div style="position:absolute;right:136.82px;top:1554.36px;font-size:34px;line-height:34px;color:#111;font-weight:500;white-space:pre;text-align:right;">66%</div>
<div style="position:absolute;right:139.37px;top:1601.86px;font-size:29px;line-height:29px;color:#e5262f;font-weight:400;white-space:pre;text-align:right;">-2.6%</div>
<div style="position:absolute;left:2357.6px;top:1714.5px;width:20px;height:20px;background:#1eb3d8;border-radius:50%;"></div>
<svg style="position:absolute;left:2406px;top:1694.2px;overflow:visible;" width="60" height="60" viewBox="0 0 60 60"><path d="M1 8 L26 2 L40 10 L32 59 L10 56 Z" fill="#07c3f2"/><path d="M24 8 L50 2 L58 30 L50 56 L28 50 Z" fill="#fcf84a"/><path d="M46 14 L60 26 L52 40 Z" fill="#07c3f2"/><rect x="11.75" y="11.75" width="36.5" height="36.5" fill="#000"/><rect x="16" y="40" width="13" height="2.6" fill="#fff"/><text x="15.5" y="31" font-family="Liberation Sans, Arial, sans-serif" font-weight="700" font-size="16" fill="#fff">WS</text></svg>
<div style="position:absolute;left:2483.92px;top:1685.66px;font-size:34px;line-height:34px;color:#111;font-weight:500;white-space:pre;">WebStorm</div>
<div style="position:absolute;left:2484.96px;top:1733.17px;font-size:29.1px;line-height:29.1px;color:#777;font-weight:400;white-space:pre;">44 hours 22 minutes</div>
<div style="position:absolute;right:136.82px;top:1685.16px;font-size:34px;line-height:34px;color:#111;font-weight:500;white-space:pre;text-align:right;">66%</div>
<div style="position:absolute;right:139.37px;top:1732.66px;font-size:29px;line-height:29px;color:#e5262f;font-weight:400;white-space:pre;text-align:right;">-2.6%</div>
<div style="position:absolute;left:740.3px;top:2010.7px;width:3041px;height:400px;background:#e8e8e8;border-radius:56px;"></div>
<svg style="position:absolute;left:816.57px;top:2079.1px;overflow:visible;" width="60" height="60" viewBox="0 0 60 60"><polygon points="29.59,8.35 12.98,30.86 27.59,33.84 29.91,51.45 47.46,28.70 31.53,26.66" fill="#161616" stroke="#161616" stroke-width="4.4" stroke-linejoin="round"/></svg>
<div style="position:absolute;left:895.98px;top:2084.53px;font-size:48.8px;line-height:48.8px;color:#111;font-weight:500;white-space:pre;">Departments</div>
<svg style="position:absolute;left:3654px;top:2084px;overflow:visible;" width="50" height="50" viewBox="0 0 50 50"><circle cx="25" cy="25" r="20.2" fill="none" stroke="#6e6e6e" stroke-width="3.3"/><line x1="25" y1="23.4" x2="25" y2="35" stroke="#6e6e6e" stroke-width="3.2" stroke-linecap="round"/><circle cx="25" cy="17" r="2" fill="#6e6e6e"/></svg>
<script>(function(){var w=window.innerWidth||3840;if(Math.abs(w-3840)>2){document.documentElement.style.zoom=String(w/3840);}})();</script>
</div></body></html>
